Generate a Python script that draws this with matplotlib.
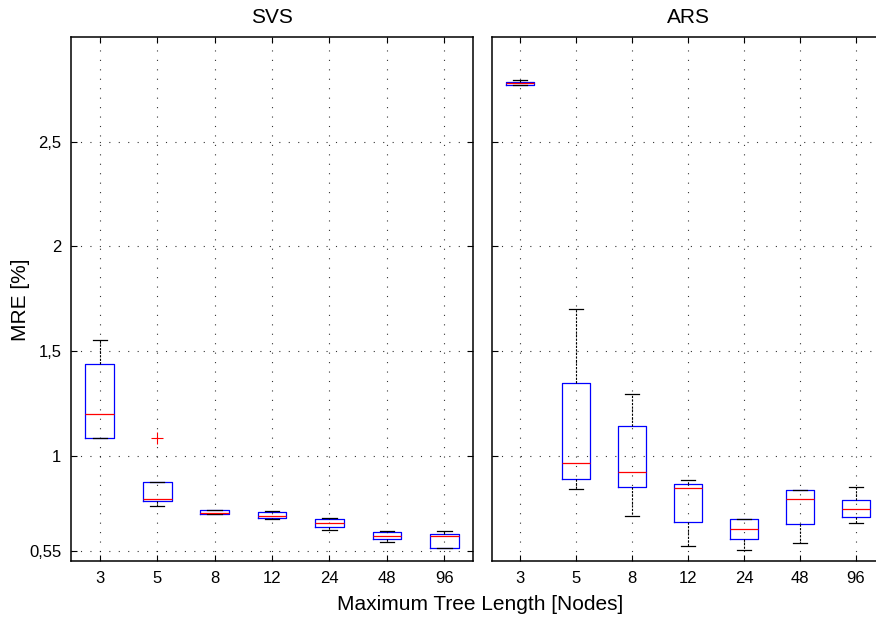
import matplotlib
matplotlib.use("Agg")
import matplotlib.pyplot as plt
from matplotlib.ticker import FixedLocator, FuncFormatter

plt.rcParams['font.family'] = ['Liberation Sans', 'DejaVu Sans']

tree_lengths = ['3', '5', '8', '12', '24', '48', '96']

# SVS box statistics (MRE in %)
svs_whislo = [1.087, 0.760, 0.722, 0.699, 0.646, 0.590, 0.560]
svs_q1 = [1.087, 0.786, 0.724, 0.705, 0.662, 0.606, 0.563]
svs_med = [1.203, 0.795, 0.727, 0.713, 0.682, 0.619, 0.619]
svs_q3 = [1.441, 0.875, 0.743, 0.733, 0.699, 0.638, 0.630]
svs_whishi = [1.554, 0.875, 0.745, 0.737, 0.706, 0.644, 0.644]
svs_fliers = [[], [1.087], [], [], [], [], []]

# ARS box statistics (MRE in %)
ars_whislo = [2.770, 0.843, 0.713, 0.573, 0.552, 0.584, 0.682]
ars_q1 = [2.770, 0.892, 0.855, 0.686, 0.603, 0.675, 0.710]
ars_med = [2.778, 0.967, 0.925, 0.849, 0.651, 0.797, 0.746]
ars_q3 = [2.782, 1.351, 1.146, 0.865, 0.701, 0.838, 0.792]
ars_whishi = [2.794, 1.703, 1.295, 0.886, 0.701, 0.838, 0.852]
ars_fliers = [[], [], [], [], [], [], []]

svs_yticks = [0.55, 1.0, 1.5, 2.0, 2.5]
ars_yticks = [1.0, 1.5, 2.0, 2.5]


def make_stats(lo, q1, med, q3, hi, fl):
    return [dict(whislo=a, q1=b, med=c, q3=d, whishi=e, fliers=f)
            for a, b, c, d, e, f in zip(lo, q1, med, q3, hi, fl)]


def comma_fmt(v, pos):
    return ('%g' % v).replace('.', ',')


dots = (0, (1, 7.5))


def draw_panel(ax, stats, title, yticks, labels):
    ax.bxp(stats, widths=0.5, capwidths=0.25,
           boxprops=dict(color='blue', linewidth=0.9),
           medianprops=dict(color='red', linewidth=0.9),
           whiskerprops=dict(color='black', linewidth=0.8, linestyle=(0, (2, 1.2))),
           capprops=dict(color='black', linewidth=0.9),
           flierprops=dict(marker='+', markeredgecolor='red', markersize=9,
                           markeredgewidth=0.8, linestyle='none'))
    ax.set_xlim(0.5, 7.5)
    ax.set_ylim(0.5, 3.0)
    ax.set_xticks(range(1, 8))
    ax.set_xticklabels(tree_lengths)
    ax.yaxis.set_major_locator(FixedLocator(yticks))
    ax.yaxis.set_major_formatter(FuncFormatter(comma_fmt))
    ax.grid(True, color='black', linestyle=dots, linewidth=0.8, alpha=0.8)
    ax.set_axisbelow(True)
    ax.tick_params(direction='in', length=4, width=0.8, labelsize=12,
                   top=True, right=labels, labelleft=labels, pad=7)
    for s in ax.spines.values():
        s.set_linewidth(1.1)
    ax.set_title(title, fontsize=15, pad=10)


fig = plt.figure(figsize=(8.76, 6.18), dpi=100)
ax1 = fig.add_axes([0.0811, 0.0922, 0.4589, 0.8484])
ax2 = fig.add_axes([0.5616, 0.0922, 0.4475, 0.8484])

draw_panel(ax1, make_stats(svs_whislo, svs_q1, svs_med, svs_q3, svs_whishi, svs_fliers),
           'SVS', svs_yticks, True)
draw_panel(ax2, make_stats(ars_whislo, ars_q1, ars_med, ars_q3, ars_whishi, ars_fliers),
           'ARS', ars_yticks, False)

fig.text(0.023, 0.515, 'MRE [%]', fontsize=15, rotation=90,
         ha='center', va='center')
fig.text(0.548, 0.022, 'Maximum Tree Length [Nodes]', fontsize=15,
         ha='center', va='center')

fig.savefig('out.png', dpi=100)
